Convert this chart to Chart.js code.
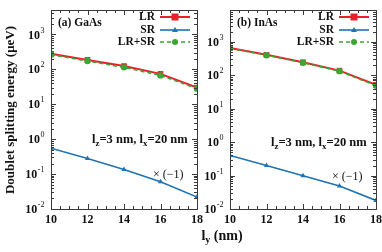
<!DOCTYPE html>
<html><head><meta charset="utf-8">
<script src="https://cdn.jsdelivr.net/npm/chart.js@4/dist/chart.umd.min.js"></script>
<style>
html,body{margin:0;padding:0;background:#fff;}
#wrap{position:relative;width:382px;height:252px;}
canvas{position:absolute;left:0;top:0;}
</style></head><body>
<div id="wrap"><canvas id="c1" width="382" height="252"></canvas><canvas id="c2" width="382" height="252"></canvas></div>
<script>
const xValues = [10, 12, 14, 16, 18];
const gaasLR = [280, 186, 124, 74, 30];
const gaasSR = [0.55, 0.28, 0.135, 0.06, 0.022];
const gaasSum = [263, 173, 114, 67, 28];
const inasLR = [660, 410, 245, 138, 52];
const inasSR = [0.40, 0.20, 0.099, 0.049, 0.018];
const inasSum = [640, 400, 238, 133, 49];
const xTickLabels = [10, 12, 14, 16, 18];
const yTickExponents = [-2, -1, 0, 1, 2, 3];
const seriesNames = ['LR', 'SR', 'LR+SR'];
const panelLabels = ['(a) GaAs', '(b) InAs'];

const RED = '#e8202a', BLUE = '#1f73b4', GREEN = '#3ea535', FRAME = '#3a3a3a';
const SERIF = '"Liberation Serif", "DejaVu Serif", serif';

function drawParts(ctx, parts, x, y, size, bold) {
  let cx = x;
  for (const [t, sub] of parts) {
    const fs = sub ? size * 0.72 : size;
    ctx.font = (bold ? 'bold ' : '') + fs + 'px ' + SERIF;
    ctx.fillText(t, cx, sub ? y + size * 0.28 : y);
    cx += ctx.measureText(t).width;
  }
}

function makePlugin(idx) {
  return {
    id: 'deco' + idx,
    afterDatasetsDraw(chart) {
      const ctx = chart.ctx, a = chart.chartArea;
      const xs = chart.scales.x, ys = chart.scales.y;
      ctx.save();
      ctx.strokeStyle = FRAME; ctx.lineWidth = 1;
      ctx.beginPath();
      for (let v = xs.min; v <= xs.max + 1e-9; v += 0.5) {
        const px = Math.round(xs.getPixelForValue(v)) + 0.5;
        const L = (Math.abs(v % 2) < 1e-9) ? 5 : 3;
        ctx.moveTo(px, a.bottom); ctx.lineTo(px, a.bottom - L);
        ctx.moveTo(px, a.top); ctx.lineTo(px, a.top + L);
      }
      for (let e = -2; e <= 4; e++) {
        for (let m = 1; m <= 9; m++) {
          const v = m * Math.pow(10, e);
          if (v < ys.min * 0.999 || v > ys.max) continue;
          const py = Math.round(ys.getPixelForValue(v)) + 0.5;
          const L = m === 1 ? 5 : 3;
          ctx.moveTo(a.left, py); ctx.lineTo(a.left + L, py);
          ctx.moveTo(a.right, py); ctx.lineTo(a.right - L, py);
        }
      }
      ctx.stroke();
      ctx.strokeRect(Math.round(a.left) + 0.5, Math.round(a.top) + 0.5, Math.round(a.right - a.left), Math.round(a.bottom - a.top));
      ctx.fillStyle = '#111';
      ctx.textBaseline = 'middle';
      ctx.font = 'bold 12px ' + SERIF;
      ctx.textAlign = 'center';
      xTickLabels.forEach(v => ctx.fillText(String(v), xs.getPixelForValue(v), a.bottom + 11));
      yTickExponents.forEach(e => {
        const v = Math.pow(10, e);
        if (v > ys.max) return;
        const py = ys.getPixelForValue(v);
        ctx.textAlign = 'left';
        ctx.font = '8px ' + SERIF;
        const es = String(e);
        const ew = ctx.measureText(es).width;
        ctx.font = 'bold 12px ' + SERIF;
        const bw = ctx.measureText('10').width;
        const x0 = a.left - 7 - ew - bw;
        ctx.fillText('10', x0, py + 1);
        ctx.font = '8px ' + SERIF;
        ctx.fillText(es, x0 + bw + 0.5, py - 4);
      });
      ctx.textAlign = 'left';
      ctx.font = 'bold 11.5px ' + SERIF;
      ctx.fillText(panelLabels[idx], a.left + 7, a.top + 13);
      const cols = [RED, BLUE, GREEN];
      const ly = [a.top + 7, a.top + 20, a.top + 32];
      for (let i = 0; i < 3; i++) {
        ctx.textAlign = 'right';
        ctx.font = 'bold 11.5px ' + SERIF;
        ctx.fillStyle = '#111';
        ctx.fillText(seriesNames[i], a.right - 42, ly[i]);
        ctx.strokeStyle = cols[i]; ctx.fillStyle = cols[i];
        ctx.lineWidth = i === 0 ? 2 : 1.6;
        ctx.setLineDash(i === 2 ? [4, 3] : []);
        ctx.beginPath(); ctx.moveTo(a.right - 37, ly[i]); ctx.lineTo(a.right - 7, ly[i]); ctx.stroke();
        ctx.setLineDash([]);
        const mx = a.right - 22;
        ctx.beginPath();
        if (i === 0) ctx.rect(mx - 3.5, ly[i] - 3.5, 7, 7);
        else if (i === 1) { ctx.moveTo(mx, ly[i] - 3); ctx.lineTo(mx + 3, ly[i] + 2); ctx.lineTo(mx - 3, ly[i] + 2); ctx.closePath(); }
        else ctx.arc(mx, ly[i], 3, 0, Math.PI * 2);
        ctx.fill();
      }
      ctx.fillStyle = '#111';
      ctx.textAlign = 'left';
      drawParts(ctx, [['l', false], ['z', true], ['=3 nm, l', false], ['x', true], ['=20 nm', false]], a.left + 41, ys.getPixelForValue(1) + 1, 12.5, true);
      ctx.font = '12px ' + SERIF;
      ctx.fillText('\u00d7 (\u22121)', a.right - 44, ys.getPixelForValue(0.1) + 1);
      ctx.restore();
    }
  };
}

function makeChart(id, idx, lr, sr, sum, ymax, padL, padR) {
  return new Chart(document.getElementById(id), {
    type: 'line',
    data: {
      labels: xValues,
      datasets: [
        { label: seriesNames[2], data: xValues.map((x, i) => ({x, y: sum[i]})), borderColor: GREEN, backgroundColor: GREEN, borderWidth: 1.6, borderDash: [4, 3], pointStyle: 'circle', pointRadius: 3.2, pointBorderWidth: 0, order: 0 },
        { label: seriesNames[0], data: xValues.map((x, i) => ({x, y: lr[i]})), borderColor: RED, backgroundColor: RED, borderWidth: 2, pointStyle: 'rect', pointRadius: 4, pointBorderWidth: 0, order: 1 },
        { label: seriesNames[1], data: xValues.map((x, i) => ({x, y: sr[i]})), borderColor: BLUE, backgroundColor: BLUE, borderWidth: 1.6, pointStyle: 'triangle', pointRadius: 3, pointBorderWidth: 0, order: 2 }
      ]
    },
    options: {
      responsive: false, animation: false, devicePixelRatio: 1,
      layout: { padding: { left: padL, right: padR, top: 10, bottom: 43 } },
      plugins: { legend: { display: false }, tooltip: { enabled: false } },
      elements: { line: { tension: 0 } },
      scales: {
        x: { type: 'linear', min: 10, max: 18, display: false },
        y: { type: 'logarithmic', min: 0.01, max: ymax, display: false }
      }
    },
    plugins: [makePlugin(idx)]
  });
}

makeChart('c1', 0, gaasLR, gaasSR, gaasSum, 5000, 51, 185);
makeChart('c2', 1, inasLR, inasSR, inasSum, 9000, 230, 6);

(function () {
  const ctx = document.getElementById('c1').getContext('2d');
  ctx.save();
  ctx.fillStyle = '#111';
  ctx.translate(11, 110);
  ctx.rotate(-Math.PI / 2);
  ctx.textAlign = 'center'; ctx.textBaseline = 'middle';
  ctx.font = 'bold 13px ' + SERIF;
  ctx.fillText('Doublet splitting energy (\u03bceV)', 0, 0);
  ctx.restore();
  ctx.save();
  ctx.fillStyle = '#111';
  ctx.textBaseline = 'middle';
  ctx.textAlign = 'left';
  ctx.font = 'bold 14px ' + SERIF;
  const w = ctx.measureText('l').width + ctx.measureText(' (nm)').width;
  ctx.font = 'bold 10px ' + SERIF;
  const w2 = ctx.measureText('y').width;
  drawParts(ctx, [['l', false], ['y', true], [' (nm)', false]], 222 - (w + w2) / 2, 236, 14, true);
  ctx.restore();
})();
</script>
</body></html>
